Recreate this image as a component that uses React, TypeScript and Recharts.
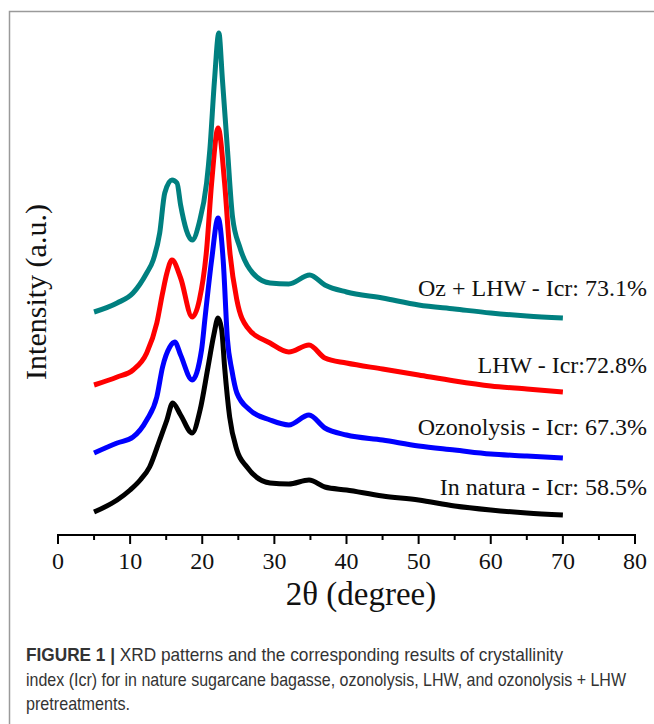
import { LineChart, Line, XAxis, YAxis } from "recharts"

// 2θ positions (degree) and intensity readings (a.u.) for each pattern
const naturaTheta = [5, 8.2, 10, 11.4, 12.7, 14.1, 15.1, 15.9, 17, 18.6, 19.7, 20.8, 21.6, 22.2, 22.7, 23.1, 23.8, 24.8, 26.2, 29.4, 32, 34.8, 37, 40, 45, 50, 55, 60, 65, 70]
const naturaI = [23, 35, 45, 55, 68, 95, 115, 132, 120, 102, 125, 168, 200, 217, 205, 168, 118, 85, 68, 52, 51, 55, 48, 45, 39, 35, 29, 25, 22, 20]

const ozTheta = [5, 8.2, 10.4, 12.3, 13.7, 14.5, 15.5, 16.2, 17, 18.6, 19.9, 20.4, 21.3, 22.2, 22.9, 23.5, 24.1, 24.8, 26.6, 29.4, 32, 34.8, 37, 40, 45, 50, 55, 60, 65, 70]
const ozI = [82, 92, 98, 115, 138, 168, 188, 193, 180, 155, 185, 218, 275, 317, 275, 195, 165, 142, 125, 115, 110, 120, 107, 100, 95, 89, 85, 81, 79, 77]

const lhwTheta = [5, 8.2, 10.4, 12.3, 13.7, 14.5, 15.1, 15.8, 17, 18.6, 19.6, 20.6, 21.3, 22.2, 23.1, 23.8, 24.8, 26.2, 29.4, 32, 34.8, 37, 40, 45, 50, 55, 60, 65, 70]
const lhwI = [150, 158, 165, 182, 212, 242, 262, 275, 257, 218, 235, 285, 352, 407, 352, 285, 235, 208, 192, 183, 190, 177, 172, 166, 160, 154, 149, 146, 143]

const ozLhwTheta = [5, 8.2, 10.4, 12.3, 13.2, 14.1, 14.8, 15.8, 16.5, 17, 18.6, 19.6, 20.6, 21.05, 21.7, 22.3, 22.8, 23.5, 24.2, 25.2, 27, 29.4, 32, 34.9, 37, 40, 45, 50, 55, 60, 65, 70]
const ozLhwI = [223, 232, 242, 262, 275, 302, 342, 355, 352, 330, 295, 313, 352, 385, 455, 502, 455, 385, 318, 288, 262, 252, 251, 260, 250, 243, 237, 230, 226, 222, 219, 217]

const xTicks = [0, 5, 10, 15, 20, 25, 30, 35, 40, 45, 50, 55, 60, 65, 70, 75, 80]

const labels = [
  { text: "Oz + LHW - Icr: 73.1%", y: 296 },
  { text: "LHW - Icr:72.8%", y: 373 },
  { text: "Ozonolysis - Icr: 67.3%", y: 435 },
  { text: "In natura - Icr: 58.5%", y: 495 },
]

const caption = [
  "XRD patterns and the corresponding results of crystallinity",
  "index (Icr) for in nature sugarcane bagasse, ozonolysis, LHW, and ozonolysis + LHW",
  "pretreatments.",
]

const zip = (xs: number[], ys: number[]) => xs.map((x, i) => ({ x, y: ys[i] }))

const series = [
  { name: "In natura", data: zip(naturaTheta, naturaI), color: "#000000" },
  { name: "Ozonolysis", data: zip(ozTheta, ozI), color: "#0000ff" },
  { name: "LHW", data: zip(lhwTheta, lhwI), color: "#ff0000" },
  { name: "Oz + LHW", data: zip(ozLhwTheta, ozLhwI), color: "#008080" },
]

const serif = "'Liberation Serif', 'Times New Roman', serif"
// caption font is condensed in the original, squeeze it horizontally
const squeeze = 0.82

function Tick(props: any) {
  const { x, y, payload } = props
  const major = payload.value % 10 === 0
  return (
    <g>
      <line x1={x} x2={x} y1={y - 1} y2={y + (major ? 9 : 5)} stroke="#000" strokeWidth={2} />
      {major && (
        <text x={x} y={y + 34} textAnchor="middle" fontFamily={serif} fontSize={24} fill="#111">
          {payload.value}
        </text>
      )}
    </g>
  )
}

export default function App() {
  return (
    <div style={{ position: "absolute", left: 0, top: 0, width: 654, height: 724, background: "#fff" }}>
      <LineChart width={654} height={600} margin={{ top: 28, right: 19, left: 58, bottom: 35 }}>
        <XAxis
          type="number"
          dataKey="x"
          domain={[0, 80]}
          ticks={xTicks}
          interval={0}
          tickLine={false}
          tickSize={0}
          tickMargin={0}
          height={30}
          axisLine={{ stroke: "#000", strokeWidth: 2 }}
          tick={<Tick />}
          allowDuplicatedCategory={false}
        />
        <YAxis
          type="number"
          dataKey="y"
          domain={[0, 507]}
          width={0}
          tick={false}
          tickLine={false}
          axisLine={{ stroke: "#000", strokeWidth: 2 }}
        />
        {series.map((s) => (
          <Line
            key={s.name}
            data={s.data}
            dataKey="y"
            name={s.name}
            type="monotone"
            stroke={s.color}
            strokeWidth={5}
            strokeLinejoin="round"
            dot={false}
            isAnimationActive={false}
          />
        ))}
      </LineChart>
      <svg width={654} height={724} style={{ position: "absolute", left: 0, top: 0, pointerEvents: "none" }}>
        <path d="M9.5 724 L9.5 11.5 L654 11.5" fill="none" stroke="#9a9a9a" strokeWidth={1.5} />
        <text
          transform="translate(46 292) rotate(-90)"
          textAnchor="middle"
          fontFamily={serif}
          fontSize={30}
          fill="#111"
        >
          Intensity (a.u.)
        </text>
        <text x={361} y={605} textAnchor="middle" fontFamily={serif} fontSize={33} fill="#111">
          2θ (degree)
        </text>
        {labels.map((l) => (
          <text key={l.text} x={647} y={l.y} textAnchor="end" fontFamily={serif} fontSize={24} fill="#111">
            {l.text}
          </text>
        ))}
        <g
          transform={`scale(${squeeze} 1)`}
          fontFamily="'Liberation Sans', Arial, sans-serif"
          fontSize={18}
          fill="#333"
        >
          <text x={26 / squeeze} y={661} textLength={537 / squeeze} lengthAdjust="spacingAndGlyphs">
            <tspan fontWeight="bold">FIGURE 1 | </tspan>
            {caption[0]}
          </text>
          <text x={26 / squeeze} y={686} textLength={600 / squeeze} lengthAdjust="spacingAndGlyphs">
            {caption[1]}
          </text>
          <text x={26 / squeeze} y={710} textLength={104 / squeeze} lengthAdjust="spacingAndGlyphs">
            {caption[2]}
          </text>
        </g>
      </svg>
    </div>
  )
}
